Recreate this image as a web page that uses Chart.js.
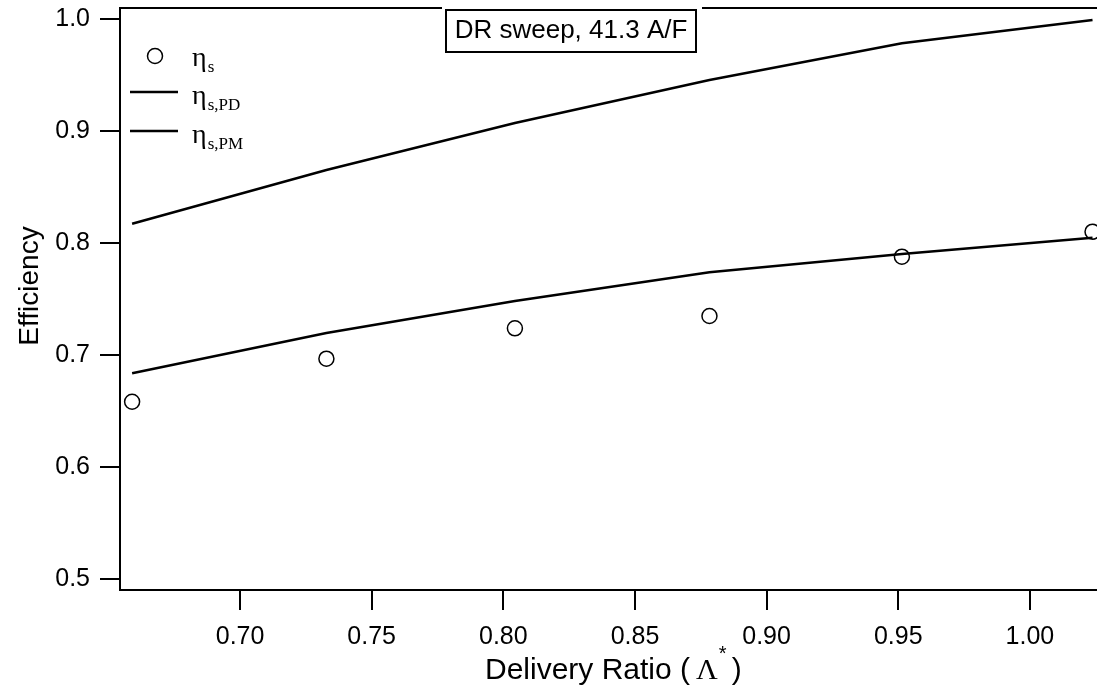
<!DOCTYPE html>
<html>
<head>
<meta charset="utf-8">
<script src="https://cdn.jsdelivr.net/npm/chart.js@4"></script>
<style>
    body { margin: 0; background: #fff; }
    #wrap { width: 1097px; height: 689px; }
</style>
</head>
<body>
<div id="wrap"><canvas id="effChart" width="1097" height="689"></canvas></div>
<script>
// delivery ratio values (x) and the three efficiency series
const deliveryRatio = [0.659, 0.7328, 0.8044, 0.8783, 0.9514, 1.0238];
const etaS = [0.6583, 0.6967, 0.7238, 0.7348, 0.7878, 0.8101];
const etaPD = [0.8172, 0.8652, 0.9071, 0.9455, 0.9783, 0.9991];
const etaPM = [0.6837, 0.7196, 0.7482, 0.7738, 0.7902, 0.8047];

const xTicks = [0.70, 0.75, 0.80, 0.85, 0.90, 0.95, 1.00];
const yTicks = [0.5, 0.6, 0.7, 0.8, 0.9, 1.0];

const boxLabel = "DR sweep, 41.3 A/F";

const SANS = "'Liberation Sans', Arial, sans-serif";
const SERIF = "'Liberation Serif', 'Times New Roman', serif";

function toPoints(ys) {
    return deliveryRatio.map((x, i) => ({ x: x, y: ys[i] }));
}

// eta with a subscript, drawn on the canvas
function drawEta(ctx, x, y, sub) {
    ctx.font = "28px " + SERIF;
    ctx.textAlign = "left";
    ctx.textBaseline = "alphabetic";
    ctx.fillText("\u03B7", x, y);
    const w = ctx.measureText("\u03B7").width;
    ctx.font = "17px " + SERIF;
    ctx.fillText(sub, x + w + 1, y + 6);
}

const decorPlugin = {
    id: "decor",
    afterDraw(chart) {
        const ctx = chart.ctx;
        const area = chart.chartArea;
        ctx.save();
        ctx.fillStyle = "#000";
        ctx.strokeStyle = "#000";

        // top frame line
        ctx.lineWidth = 2;
        ctx.beginPath();
        ctx.moveTo(area.left, area.top);
        ctx.lineTo(area.right, area.top);
        ctx.stroke();

        // annotation box
        ctx.fillStyle = "#fff";
        ctx.fillRect(442, 3, 260, 52);
        ctx.lineWidth = 2;
        ctx.strokeRect(446, 10, 250, 42);
        ctx.fillStyle = "#000";
        ctx.font = "26px " + SANS;
        ctx.textAlign = "center";
        ctx.textBaseline = "middle";
        ctx.fillText(boxLabel, 571, 31);

        // legend
        ctx.lineWidth = 1.5;
        ctx.beginPath();
        ctx.arc(155, 56, 7.5, 0, Math.PI * 2);
        ctx.stroke();
        drawEta(ctx, 192, 66, "s");

        ctx.lineWidth = 2.5;
        ctx.beginPath();
        ctx.moveTo(130, 92);
        ctx.lineTo(178, 92);
        ctx.stroke();
        drawEta(ctx, 192, 104, "s,PD");

        ctx.beginPath();
        ctx.moveTo(130, 131);
        ctx.lineTo(178, 131);
        ctx.stroke();
        drawEta(ctx, 192, 143, "s,PM");

        // y axis title
        ctx.save();
        ctx.translate(30, 286);
        ctx.rotate(-Math.PI / 2);
        ctx.font = "28px " + SANS;
        ctx.textAlign = "center";
        ctx.textBaseline = "middle";
        ctx.fillText("Efficiency", 0, 0);
        ctx.restore();

        // x axis title with superscript star
        ctx.textAlign = "left";
        ctx.textBaseline = "alphabetic";
        let x = 485;
        const base = 679;
        ctx.font = "30px " + SANS;
        ctx.fillText("Delivery Ratio (", x, base);
        x += ctx.measureText("Delivery Ratio (").width + 6;
        ctx.font = "30px " + SERIF;
        ctx.fillText("\u039B", x, base);
        x += ctx.measureText("\u039B").width;
        ctx.font = "20px " + SANS;
        ctx.fillText("*", x + 1, base - 19);
        x += 14;
        ctx.font = "30px " + SANS;
        ctx.fillText(")", x, base);

        ctx.restore();
    }
};

const axisCommon = {
    type: "linear",
    border: { display: true, color: "#000", width: 2 },
    grid: {
        display: true,
        drawOnChartArea: false,
        drawTicks: true,
        tickLength: 20,
        color: "#000",
        lineWidth: 2
    }
};

new Chart(document.getElementById("effChart"), {
    type: "scatter",
    data: {
        datasets: [
            {
                label: "\u03B7s",
                data: toPoints(etaS),
                showLine: false,
                pointStyle: "circle",
                pointRadius: 7.5,
                pointBorderWidth: 1.5,
                pointBorderColor: "#000",
                pointBackgroundColor: "rgba(0,0,0,0)",
                clip: false
            },
            {
                label: "\u03B7s,PD",
                data: toPoints(etaPD),
                showLine: true,
                borderColor: "#000",
                borderWidth: 2.5,
                pointRadius: 0,
                tension: 0,
                clip: false
            },
            {
                label: "\u03B7s,PM",
                data: toPoints(etaPM),
                showLine: true,
                borderColor: "#000",
                borderWidth: 2.5,
                pointRadius: 0,
                tension: 0,
                clip: false
            }
        ]
    },
    options: {
        responsive: false,
        animation: false,
        layout: { autoPadding: false, padding: { top: 8, left: 0, right: 0, bottom: 0 } },
        plugins: {
            legend: { display: false },
            tooltip: { enabled: false }
        },
        scales: {
            x: Object.assign({}, axisCommon, {
                position: "bottom",
                min: 0.6544,
                max: 1.0255,
                afterBuildTicks: (scale) => { scale.ticks = xTicks.map(v => ({ value: v })); },
                afterFit: (scale) => {
                    scale.height = 99;
                    scale.paddingLeft = 0;
                    scale.paddingRight = 0;
                },
                ticks: {
                    color: "#000",
                    padding: 12,
                    maxRotation: 0,
                    font: { family: SANS, size: 25 },
                    callback: (v) => Number(v).toFixed(2)
                }
            }),
            y: Object.assign({}, axisCommon, {
                position: "left",
                min: 0.4902,
                max: 1.0098,
                afterBuildTicks: (scale) => { scale.ticks = yTicks.map(v => ({ value: v })); },
                afterFit: (scale) => {
                    scale.width = 120;
                    scale.paddingTop = 0;
                    scale.paddingBottom = 0;
                },
                ticks: {
                    color: "#000",
                    padding: 10,
                    font: { family: SANS, size: 25 },
                    callback: (v) => Number(v).toFixed(1)
                }
            })
        }
    },
    plugins: [decorPlugin]
});
</script>
</body>
</html>
